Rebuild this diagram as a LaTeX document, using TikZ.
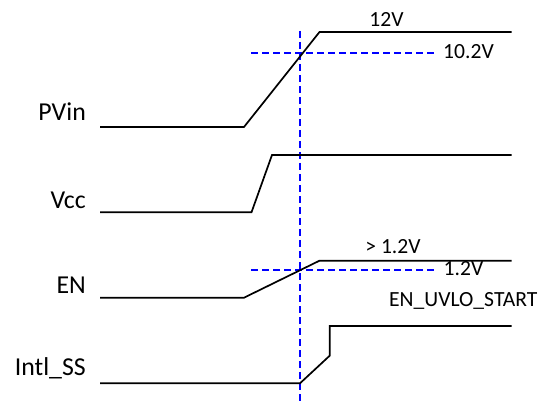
\documentclass[tikz,border=0pt]{standalone}
\usepackage{fontspec}
\setmainfont{Carlito}
\begin{document}
\begin{tikzpicture}[x=1pt,y=-1pt,
  wave/.style={draw=black,line width=1.7pt,line join=miter},
  thr/.style={draw=blue,line width=1.4pt,dash pattern=on 7pt off 4pt},
  siglabel/.style={anchor=base east,inner sep=0pt,font=\fontsize{25.8}{30}\selectfont},
  vlabel/.style={inner sep=0pt,font=\fontsize{21.6}{25}\selectfont}]
\useasboundingbox (0,0) rectangle (544,401);
% signal names
\node[siglabel] (pvin) at (86,121) {PVin};
\node[siglabel] (vcc) at (86,208) {Vcc};
\node[siglabel] (en) at (86,293) {EN};
\node[siglabel] (ss) at (86,375) {Intl\_SS};
% value labels
\node[vlabel,anchor=base] (v12) at (386.5,27) {12V};
\node[vlabel,anchor=base west] (v102) at (443,59) {10.2V};
\node[vlabel,anchor=base] (vgt) at (393,253.5) {> 1.2V};
\node[vlabel,anchor=base west] (v12b) at (443.5,275.5) {1.2V};
\node[vlabel,anchor=base west] (uvlo) at (389,306.5) {EN\_UVLO\_START};
% thresholds
\coordinate (vtop) at (300,31);
\coordinate (vbot) at (300,401);
\draw[thr] (vtop) -- (vbot);
\coordinate (h1a) at (251,53);
\coordinate (h1b) at (437,53);
\draw[thr] (h1a) -- (h1b);
\coordinate (h2a) at (251,270);
\coordinate (h2b) at (437,270);
\draw[thr] (h2a) -- (h2b);
% waveforms
\draw[wave] (100,127) -- (244,127) -- (319.5,32) -- (511.5,32);
\draw[wave] (100,212.3) -- (251.5,212.3) -- (272,155) -- (511.5,155);
\draw[wave] (100,297.7) -- (244,297.7) -- (319.5,260.7) -- (511.5,260.7);
\draw[wave] (100,383.3) -- (300,383.3) -- (329.7,355.7) -- (329.7,326) -- (511.5,326);
\end{tikzpicture}
\end{document}
